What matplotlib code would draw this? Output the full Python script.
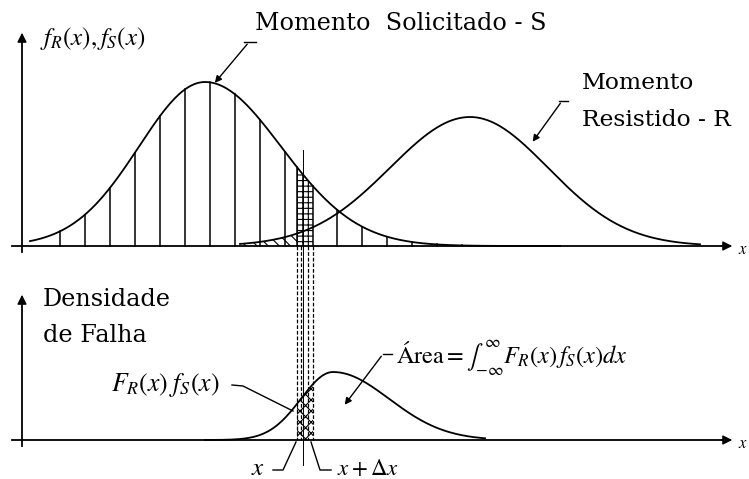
import numpy as np
import matplotlib
import matplotlib.pyplot as plt

matplotlib.rcParams['mathtext.fontset'] = 'stix'
matplotlib.rcParams['hatch.linewidth'] = 0.8

# eixos (coordenadas em pixels da figura)
base_top = 246
base_bot = 440
yaxis_x = 22

# curva S (solicitacao): pico, altura e desvios esquerdo/direito
s_mu = 205
s_h = 164
s_sig = (66, 76)
s_range = (30, 560)

# curva R (resistencia)
r_mu = 470
r_h = 129
r_sig = (80, 78)
r_range = (240, 700)

# densidade de falha F_R(x) f_S(x)
p_mu = 333
p_h = 68
p_sig = (32, 56)
p_range = (205, 485)

# linhas verticais da area sob S
hatch_x = [60, 85, 110, 135, 160, 185, 210, 235, 260, 285,
           337, 362, 387, 412, 437, 462, 487, 512]

# faixa x .. x + dx
strip = (297, 313)
strip_dash = [297, 301, 308, 313]
strip_mid = 303


def dens(x, mu, h, sig):
    s = np.where(x < mu, sig[0], sig[1])
    return h * np.exp(-0.5 * ((x - mu) / s) ** 2)


fig = plt.figure(figsize=(7.49, 4.79), dpi=100)
ax = fig.add_axes([0, 0, 1, 1])
ax.set_xlim(0, 749)
ax.set_ylim(479, 0)
ax.axis('off')

k = dict(color='black', lw=1.3)

# eixos com setas
for yb, ytop in [(base_top, 30), (base_bot, 292)]:
    ax.plot([12, 722], [yb, yb], **k)
    ax.annotate('', xy=(735, yb), xytext=(718, yb),
                arrowprops=dict(arrowstyle='-|>', color='black', lw=1.0,
                                mutation_scale=14))
    ax.plot([yaxis_x, yaxis_x], [yb + 6, ytop + 10], **k)
    ax.annotate('', xy=(yaxis_x, ytop), xytext=(yaxis_x, ytop + 14),
                arrowprops=dict(arrowstyle='-|>', color='black', lw=1.0,
                                mutation_scale=14))
    ax.text(738, yb + 3, r'$x$', fontsize=12, ha='left', va='center')

# curvas superiores
xs = np.linspace(*s_range, 400)
ys = base_top - dens(xs, s_mu, s_h, s_sig)
ax.plot(xs, ys, **k)
xr = np.linspace(*r_range, 400)
yr = base_top - dens(xr, r_mu, r_h, r_sig)
ax.plot(xr, yr, **k)

# area de sobreposicao sob R (a esquerda da faixa)
xo = np.linspace(r_range[0], strip[0], 100)
ax.fill_between(xo, base_top, base_top - dens(xo, r_mu, r_h, r_sig),
                facecolor='none', edgecolor='black', hatch='\\\\\\', lw=0)

# linhas verticais sob S
for hx in hatch_x:
    ax.plot([hx, hx], [base_top, base_top - dens(np.array(hx), s_mu, s_h, s_sig)],
            color='black', lw=1.1)

# faixa superior quadriculada
xf = np.linspace(*strip, 30)
ax.fill_between(xf, base_top, base_top - dens(xf, s_mu, s_h, s_sig),
                facecolor='none', edgecolor='black', hatch='+++', lw=0)
for sx in strip:
    ax.plot([sx, sx], [base_top, base_top - dens(np.array(sx), s_mu, s_h, s_sig)],
            color='black', lw=1.1)

# linhas tracejadas entre os graficos
for sx in strip_dash:
    ax.plot([sx, sx], [base_top, base_bot], color='black', lw=0.9,
            ls=(0, (3, 1.5)))
ax.plot([strip_mid, strip_mid], [150, 465], color='black', lw=0.7)

# curva inferior
xp = np.linspace(*p_range, 400)
yp = base_bot - dens(xp, p_mu, p_h, p_sig)
ax.plot(xp, yp, **k)
xf2 = np.linspace(*strip, 30)
ax.fill_between(xf2, base_bot, base_bot - dens(xf2, p_mu, p_h, p_sig),
                facecolor='none', edgecolor='black', hatch='xxx', lw=0)

# textos
serif = 'DejaVu Serif'
ax.text(255, 23, 'Momento  Solicitado - S', fontsize=17.2, family=serif,
        va='center')
ax.text(582, 83, 'Momento', fontsize=16.8, family=serif, va='center')
ax.text(582, 120, 'Resistido - R', fontsize=16.8, family=serif, va='center')
ax.text(43, 300, 'Densidade', fontsize=17.2, family=serif, va='center')
ax.text(43, 335, 'de Falha', fontsize=17.2, family=serif, va='center')
ax.text(40, 38, r'$f_R(x),f_S(x)$', fontsize=18, va='center')
ax.text(111, 385, r'$F_R(x)\;f_S(x)$', fontsize=18.5, va='center')
ax.text(396, 358, r'$\mathrm{Área} = \int_{-\infty}^{\infty} F_R(x)\,f_S(x)dx$',
        fontsize=17.5, va='center')
ax.text(251, 468, r'$x$', fontsize=18, va='center')
ax.text(337, 468, r'$x + \Delta x$', fontsize=16.5, va='center')

# linhas de chamada
arr = dict(arrowstyle='-|>', color='black', lw=1.0, mutation_scale=10)
ax.plot([244, 256], [42, 42], color='black', lw=1.0)
ax.annotate('', xy=(213, 85), xytext=(249, 42), arrowprops=arr)
ax.plot([559, 568], [101, 101], color='black', lw=1.0)
ax.annotate('', xy=(531, 144), xytext=(562, 101), arrowprops=arr)
ax.plot([392, 383], [354, 354], color='black', lw=1.0)
ax.annotate('', xy=(343, 407), xytext=(383, 354), arrowprops=arr)
ax.plot([232, 243, 293], [385, 386, 411], color='black', lw=1.0)
ax.plot([273, 283, 296], [470, 470, 442], color='black', lw=1.0)
ax.plot([331, 320, 311], [470, 470, 442], color='black', lw=1.0)

fig.savefig('out.png', dpi=100)
